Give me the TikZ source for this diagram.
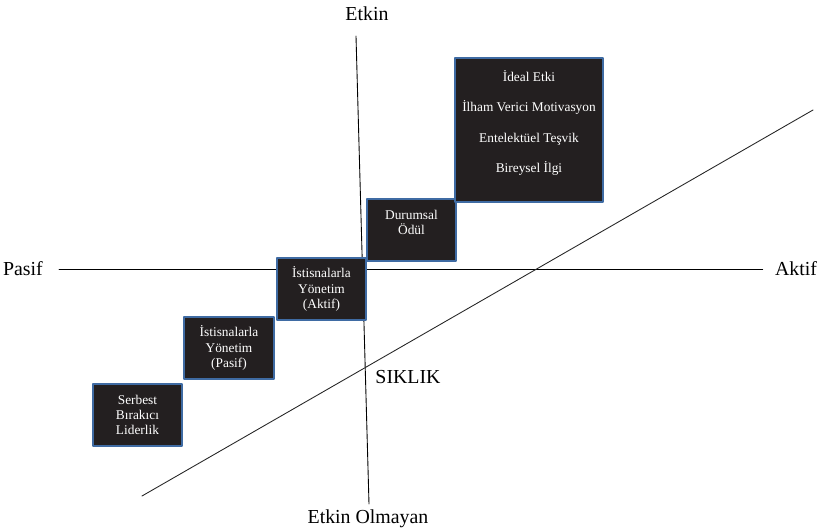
\documentclass[tikz,border=0pt]{standalone}
\usepackage{fontspec}
\setmainfont{Liberation Serif}
\usepackage{xcolor}
\usetikzlibrary{positioning}
\definecolor{boxfill}{HTML}{231F20}
\definecolor{boxedge}{HTML}{3F6BA3}
\tikzset{
  every picture/.append style={line cap=round,line join=round},
  lead box/.style={rectangle,draw=boxedge,fill=boxfill,line width=1.1pt,text=white,
    align=center,font=\fontsize{7.6}{8.6}\selectfont,minimum width=51pt,minimum height=35pt,inner sep=1pt},
  lead axis/.style={black,line width=0.5pt},
  lead label/.style={font=\fontsize{11.3}{13}\selectfont,inner sep=2pt}
}
\begin{document}
\begin{tikzpicture}[x=0.02cm,y=-0.02cm]
\useasboundingbox (0,0) rectangle (833,531);
% axes
\node[lead label] (pasif) at (23,269) {Pasif};
\node[lead label] (aktif) at (796,269) {Aktif};
\node[lead label] (etkin) at (367,14) {Etkin};
\node[lead label] (olmayan) at (368,519) {Etkin Olmayan};
\node[lead label] (siklik) at (408,377) {SIKLIK};
\coordinate (vtop) at (356,36);
\coordinate (vbot) at (369,504);
\coordinate (dlow) at (142,496);
\coordinate (dhigh) at (813,110);
\draw[lead axis,shorten <=7pt,shorten >=4.8pt] (pasif) -- (aktif);
\draw[lead axis] (vtop) -- (vbot);
\draw[lead axis,black!85] (dlow) -- (dhigh);
% styles of leadership
\node[lead box] (serbest) at (137.5,415) {Serbest\\Bırakıcı\\Liderlik};
\node[lead box] (pasifyon) at (229,348) {İstisnalarla\\Yönetim\\(Pasif)};
\node[lead box] (aktifyon) at (321.5,289) {İstisnalarla\\Yönetim\\(Aktif)};
\node[lead box] (odul) at (411.5,230) {Durumsal\\Ödül\\\mbox{}};
\node[lead box,minimum width=84.5pt,minimum height=81.6pt,
  font=\fontsize{7.6}{17.4}\selectfont] (donusum) at (529,130)
  {İdeal Etki\\İlham Verici Motivasyon\\Entelektüel Teşvik\\Bireysel İlgi\\[-7.8pt]\mbox{}};
\end{tikzpicture}
\end{document}
